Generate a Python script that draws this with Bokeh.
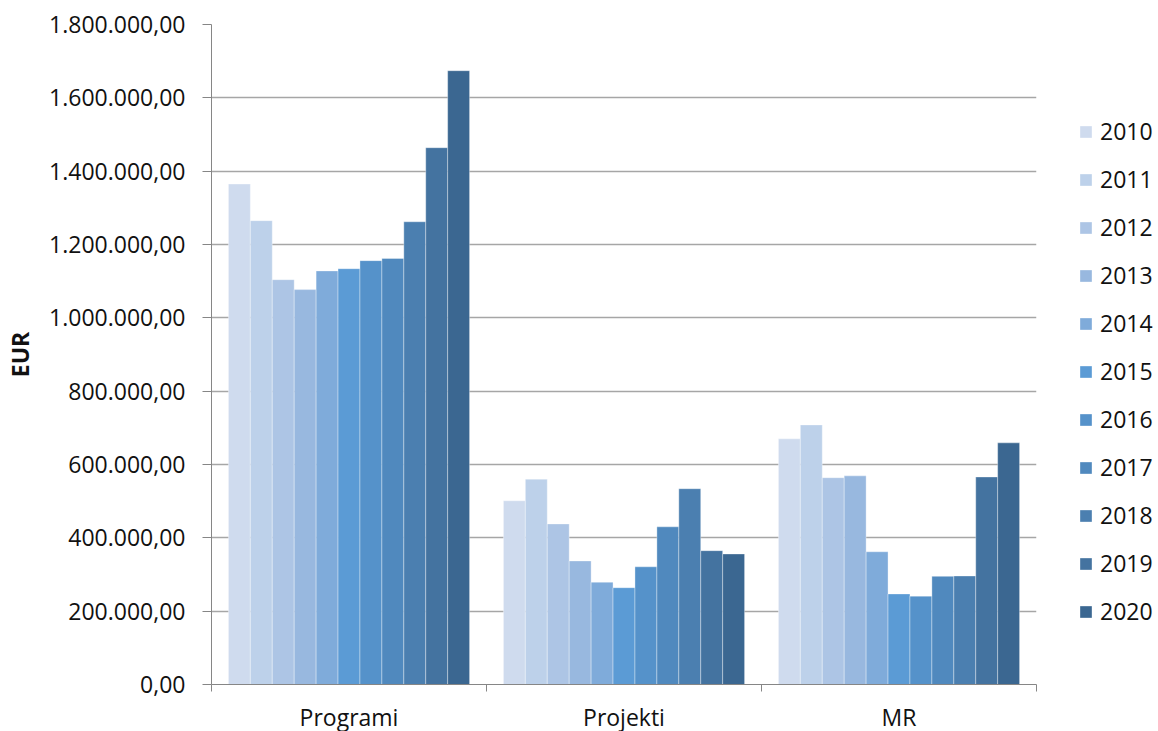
from bokeh.plotting import figure
from bokeh.models import (ColumnDataSource, Range1d, FixedTicker, Legend, LegendItem)
from bokeh.transform import dodge
from bokeh.embed import file_html
from bokeh.resources import INLINE

# Expenditure per category and year (EUR)
categories = ["Programi", "Projekti", "MR"]
years = ["2010", "2011", "2012", "2013", "2014", "2015",
         "2016", "2017", "2018", "2019", "2020"]

programi = [1365000, 1265000, 1104000, 1077000, 1128000, 1134000,
            1156000, 1162000, 1262000, 1464000, 1674000]
projekti = [501000, 560000, 438000, 337000, 279000, 264000,
            321000, 430000, 534000, 365000, 356000]
mr = [670000, 708000, 564000, 569000, 362000, 247000,
      241000, 295000, 296000, 566000, 659000]

y_ticks = [0, 200000, 400000, 600000, 800000, 1000000,
           1200000, 1400000, 1600000, 1800000]
y_tick_labels = ["0,00", "200.000,00", "400.000,00", "600.000,00", "800.000,00",
                 "1.000.000,00", "1.200.000,00", "1.400.000,00", "1.600.000,00",
                 "1.800.000,00"]

colors = ["#CFDBEE", "#BDD1EA", "#ADC5E5", "#98B8DF", "#7FABDA", "#5B9BD5",
          "#5592CA", "#5089BE", "#4B7FB0", "#4473A0", "#3B6791"]

FONT = "Open Sans"
FONT_SIZE = "23px"
TEXT_COLOR = "#111111"
AXIS_GREY = "#868686"
GRID_GREY = "#A6A6A6"

centers = [i + 0.5 for i in range(len(categories))]
data = {"x": centers}
for yr, vals in zip(years, zip(programi, projekti, mr)):
    data[yr] = list(vals)
source = ColumnDataSource(data)

p = figure(frame_width=825, frame_height=660, output_backend="svg", toolbar_location=None,
           x_range=Range1d(0, len(categories)), y_range=Range1d(0, 1800000),
           min_border_left=211, min_border_right=0, min_border_top=24,
           min_border_bottom=47)
p.outline_line_color = None
p.background_fill_color = "white"
p.border_fill_color = "white"

bar_w = 0.877 / len(years)
renderers = []
for i, (yr, col) in enumerate(zip(years, colors)):
    off = (i - (len(years) - 1) / 2) * bar_w
    r = p.vbar(x=dodge("x", off), top=yr, width=bar_w, bottom=0, source=source,
               fill_color=col, line_color="white", line_alpha=0.35, line_width=1)
    renderers.append(r)

# x axis: labels at category centres, tick marks at category boundaries
xa = p.xaxis[0]
xa.ticker = FixedTicker(ticks=centers, minor_ticks=list(range(len(categories) + 1)))
xa.major_label_overrides = {c: n for c, n in zip(centers, categories)}
xa.major_tick_line_color = None
xa.minor_tick_in = 0
xa.minor_tick_out = 7
xa.minor_tick_line_color = AXIS_GREY
xa.axis_line_color = AXIS_GREY
xa.major_label_text_font = FONT
xa.major_label_text_font_size = FONT_SIZE
xa.major_label_text_color = TEXT_COLOR
xa.major_label_standoff = 9

ya = p.yaxis[0]
ya.ticker = FixedTicker(ticks=y_ticks, minor_ticks=[])
ya.major_label_overrides = {t: s for t, s in zip(y_ticks, y_tick_labels)}
ya.major_tick_in = 0
ya.major_tick_out = 9
ya.major_tick_line_color = AXIS_GREY
ya.axis_line_color = AXIS_GREY
ya.major_label_text_font = FONT
ya.major_label_text_font_size = FONT_SIZE
ya.major_label_text_color = TEXT_COLOR
ya.major_label_standoff = 17
ya.axis_label = "EUR"
ya.axis_label_text_font = FONT
ya.axis_label_text_font_style = "bold"
ya.axis_label_text_font_size = FONT_SIZE
ya.axis_label_text_color = TEXT_COLOR
ya.axis_label_standoff = 10

p.xgrid.grid_line_color = None
p.ygrid.grid_line_color = GRID_GREY
p.ygrid.grid_line_width = 1.3
p.ygrid.ticker = FixedTicker(ticks=y_ticks)

legend = Legend(items=[LegendItem(label=yr, renderers=[r]) for yr, r in zip(years, renderers)],
                location=(42, 57), orientation="vertical",
                glyph_width=15, glyph_height=15, label_standoff=7,
                label_text_font=FONT, label_text_font_size=FONT_SIZE,
                label_text_color=TEXT_COLOR, spacing=16, padding=0, margin=0,
                border_line_color=None, background_fill_alpha=0)
p.add_layout(legend, "right")

open("out.html", "w").write(file_html(p, INLINE))
